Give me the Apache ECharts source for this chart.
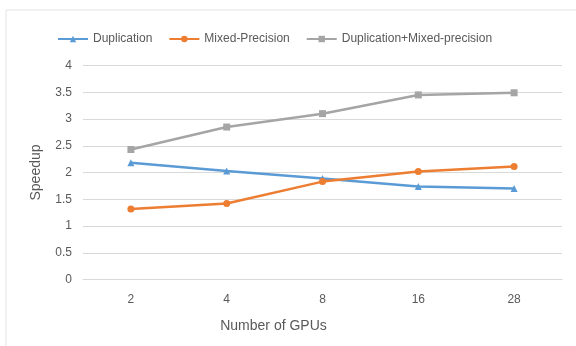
<!DOCTYPE html>
<html>
<head>
<meta charset="utf-8">
<script src="https://cdn.jsdelivr.net/npm/echarts@6/dist/echarts.min.js"></script>
<style>
  html, body { margin: 0; padding: 0; background: #fff; }
  #chart { width: 576px; height: 346px; }
</style>
</head>
<body>
<div id="chart"></div>
<script>
// GPU counts on the x axis
const gpuCounts = ['2', '4', '8', '16', '28'];

// Speedup per configuration
const duplication = [2.18, 2.03, 1.89, 1.74, 1.70];
const mixedPrecision = [1.32, 1.42, 1.83, 2.02, 2.11];
const duplicationMixed = [2.43, 2.85, 3.10, 3.45, 3.49];

const seriesNames = ['Duplication', 'Mixed-Precision', 'Duplication+Mixed-precision'];

const FONT = 'Liberation Sans';
const TEXT = '#595959';
const GRID = '#D9D9D9';

const chart = echarts.init(document.getElementById('chart'), null, { renderer: 'canvas' });

function lineSeries(name, data, color, symbol, size) {
  return {
    name: name,
    type: 'line',
    data: data,
    symbol: symbol,
    symbolSize: size,
    showSymbol: true,
    lineStyle: { color: color, width: 2.5 },
    itemStyle: { color: color },
    emphasis: { disabled: true },
    animation: false
  };
}

chart.setOption({
  animation: false,
  backgroundColor: '#fff',
  graphic: [{
    type: 'rect',
    shape: { x: 6, y: 10, width: 600, height: 360 },
    style: { fill: 'none', stroke: '#E3E3E3', lineWidth: 1 },
    silent: true
  }],
  legend: {
    top: 28,
    left: 52,
    itemWidth: 30,
    itemHeight: 8,
    itemGap: 16,
    textStyle: { fontFamily: FONT, fontSize: 12, color: TEXT },
    data: seriesNames
  },
  grid: { left: 83, right: 14, top: 65.5, bottom: 66.5 },
  xAxis: {
    type: 'category',
    data: gpuCounts,
    boundaryGap: true,
    name: 'Number of GPUs',
    nameLocation: 'middle',
    nameGap: 40,
    nameTextStyle: { fontFamily: FONT, fontSize: 14, color: TEXT, padding: [0, 98, 0, 0] },
    axisLine: { lineStyle: { color: GRID } },
    axisTick: { show: false },
    axisLabel: { fontFamily: FONT, fontSize: 12, color: TEXT, margin: 14 }
  },
  yAxis: {
    type: 'value',
    min: 0,
    max: 4,
    interval: 0.5,
    name: 'Speedup',
    nameLocation: 'middle',
    nameGap: 40,
    nameTextStyle: { fontFamily: FONT, fontSize: 14, color: TEXT },
    axisLine: { show: false },
    axisTick: { show: false },
    axisLabel: { fontFamily: FONT, fontSize: 12, color: TEXT, margin: 11 },
    splitLine: { lineStyle: { color: GRID } }
  },
  series: [
    lineSeries(seriesNames[0], duplication, '#5B9BD5', 'triangle', 7),
    lineSeries(seriesNames[1], mixedPrecision, '#ED7D31', 'circle', 7),
    lineSeries(seriesNames[2], duplicationMixed, '#A5A5A5', 'rect', 7)
  ]
});
</script>
</body>
</html>
